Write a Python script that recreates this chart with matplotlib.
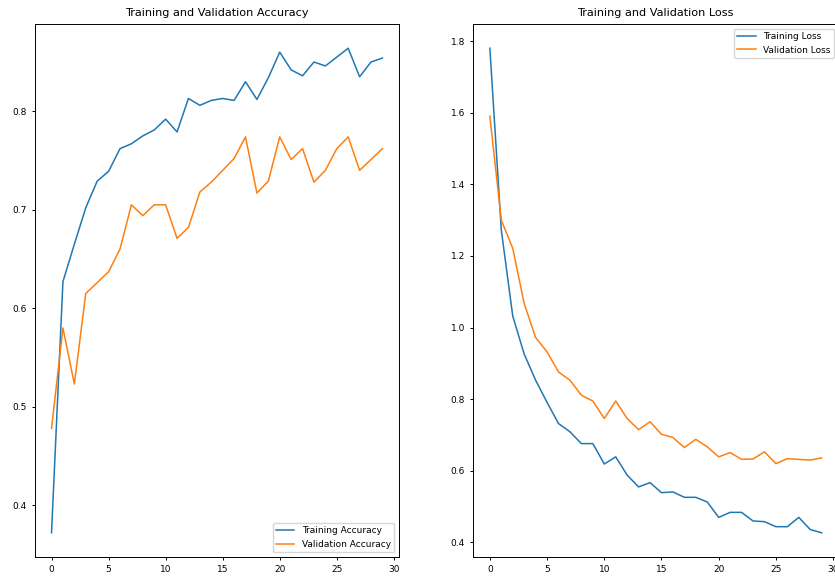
import numpy as np
import matplotlib
matplotlib.use('Agg')
import matplotlib.pyplot as plt

epochs = list(range(30))

acc = [0.372, 0.627, 0.665, 0.702, 0.729, 0.739, 0.762, 0.767, 0.775, 0.781,
       0.792, 0.779, 0.813, 0.806, 0.811, 0.813, 0.811, 0.830, 0.812, 0.834,
       0.860, 0.842, 0.836, 0.850, 0.846, 0.855, 0.864, 0.835, 0.850, 0.854]
val_acc = [0.478, 0.580, 0.523, 0.615, 0.626, 0.637, 0.660, 0.705, 0.694, 0.705,
           0.705, 0.671, 0.682, 0.718, 0.728, 0.740, 0.752, 0.774, 0.717, 0.729,
           0.774, 0.751, 0.762, 0.728, 0.740, 0.762, 0.774, 0.740, 0.751, 0.762]

loss = [1.780, 1.272, 1.032, 0.926, 0.853, 0.791, 0.732, 0.709, 0.676, 0.676,
        0.619, 0.639, 0.588, 0.555, 0.567, 0.539, 0.541, 0.526, 0.526, 0.513,
        0.470, 0.484, 0.484, 0.460, 0.458, 0.444, 0.444, 0.470, 0.436, 0.427]
val_loss = [1.590, 1.300, 1.221, 1.067, 0.972, 0.932, 0.876, 0.853, 0.811, 0.795,
            0.746, 0.795, 0.746, 0.715, 0.737, 0.702, 0.693, 0.665, 0.688, 0.667,
            0.639, 0.651, 0.632, 0.633, 0.653, 0.620, 0.634, 0.632, 0.630, 0.636]

plt.rcParams['font.size'] = 6.5
plt.rcParams['xtick.labelsize'] = 6.5
plt.rcParams['ytick.labelsize'] = 6.5
plt.rcParams['axes.linewidth'] = 0.7
plt.rcParams['xtick.major.width'] = 0.7
plt.rcParams['ytick.major.width'] = 0.7
plt.rcParams['xtick.major.size'] = 2.5
plt.rcParams['ytick.major.size'] = 2.5

# the reference is cropped on the right, so the loss axes run past the edge
fig = plt.figure(figsize=(8.35, 5.81), dpi=100)
ax1 = fig.add_axes([0.0419, 0.0413, 0.4359, 0.9174])
ax2 = fig.add_axes([0.5668, 0.0413, 0.4371, 0.9174])

ax1.plot(epochs, acc, label='Training Accuracy', lw=1.1)
ax1.plot(epochs, val_acc, label='Validation Accuracy', lw=1.1)
ax1.legend(loc='lower right', fontsize=6.5)
ax1.set_title('Training and Validation Accuracy', fontsize=8.1)

ax2.plot(epochs, loss, label='Training Loss', lw=1.1)
ax2.plot(epochs, val_loss, label='Validation Loss', lw=1.1)
ax2.legend(loc='upper right', fontsize=6.5)
ax2.set_title('Training and Validation Loss', fontsize=8.1)

fig.savefig('out.png', dpi=100)
